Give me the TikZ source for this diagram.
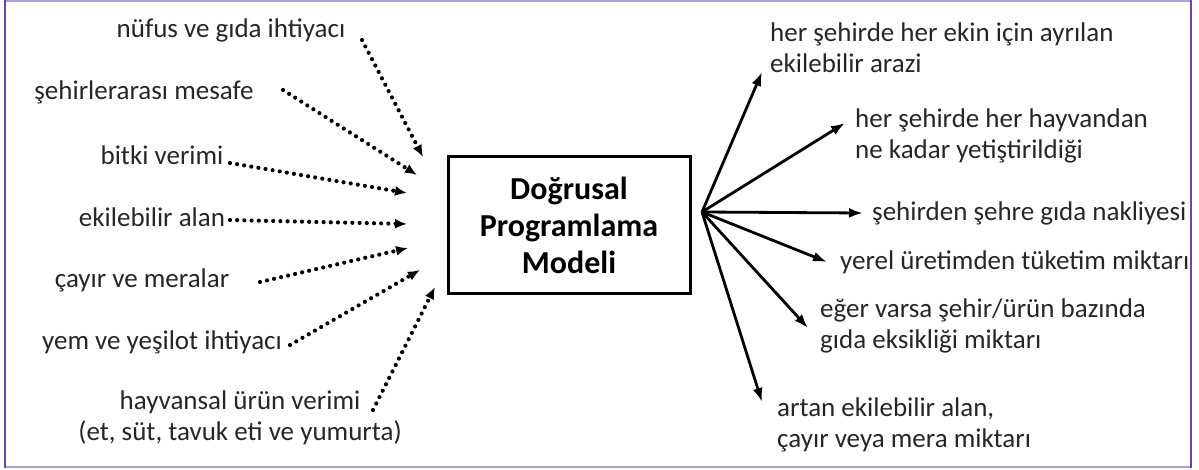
\documentclass[tikz,border=0pt]{standalone}
\usepackage{fontspec}
\setmainfont{Carlito}
\usetikzlibrary{arrows.meta}
\definecolor{frameDark}{HTML}{6B46A8}
\definecolor{frameLight}{HTML}{B39DDB}
\tikzset{
  lbl/.style={inner sep=0pt, font=\fontsize{27}{31}\selectfont, text=black!85},
  lblL/.style={lbl, align=left},
  inarrow/.style={line width=4.2pt, line cap=round, dash pattern=on 0pt off 7.2pt, -{Latex[length=12pt,width=10pt]}},
  outarrow/.style={line width=2.8pt, -{Latex[length=14pt,width=10pt]}},
  modelbox/.style={draw, line width=3pt, minimum width=242pt, minimum height=137pt, align=center, font=\fontsize{32}{37}\selectfont\bfseries}
}
\begin{document}
\begin{tikzpicture}[x=1pt,y=-1pt]
\useasboundingbox (0,0) rectangle (1199,470);
% frame
\draw[frameLight, line width=2.5pt] (5,1) -- (1191,1);
\draw[frameLight, line width=2.5pt] (5,467) -- (1191,467);
\draw[frameDark, line width=1.6pt] (5,0) -- (5,468);
\draw[frameDark, line width=1.6pt] (1191,0) -- (1191,468);

% central box
\node[modelbox] (m) at (569,225.5) {Doğrusal\\Programlama\\Modeli};

% left labels
\node[lbl] (l1) at (231,30) {nüfus ve gıda ihtiyacı};
\node[lbl] (l2) at (144,92) {şehirlerarası mesafe};
\node[lbl] (l3) at (162,155) {bitki verimi};
\node[lbl] (l4) at (152,217) {ekilebilir alan};
\node[lbl] (l5) at (142,280) {çayır ve meralar};
\node[lbl] (l6) at (162,342) {yem ve yeşilot ihtiyacı};
\node[lbl, align=center] (l7) at (240,418) {hayvansal ürün verimi\\(et, süt, tavuk eti ve yumurta)};

% left arrow endpoints
\coordinate (s1) at (362,40);  \coordinate (e1) at (423,157);
\coordinate (s2) at (283,90);  \coordinate (e2) at (417,175);
\coordinate (s3) at (230,163); \coordinate (e3) at (407,193);
\coordinate (s4) at (230,220); \coordinate (e4) at (407,224);
\coordinate (s5) at (260,282); \coordinate (e5) at (408,248);
\coordinate (s6) at (290,345); \coordinate (e6) at (420,270);
\coordinate (s7) at (373,410); \coordinate (e7) at (435,287);
\foreach \i in {1,...,7} { \draw[inarrow] (s\i) -- (e\i); }

% right side
\coordinate (o) at (702,212);
\node[lblL, anchor=west] (r1) at (770,47.5) {her şehirde her ekin için ayrılan\\ekilebilir arazi};
\node[lblL, anchor=west] (r2) at (855,136) {her şehirde her hayvandan\\ne kadar yetiştirildiği};
\node[lblL, anchor=west] (r3) at (872,213) {şehirden şehre gıda nakliyesi};
\node[lblL, anchor=west] (r4) at (840,262) {yerel üretimden tüketim miktarı};
\node[lblL, anchor=west] (r5) at (820,326) {eğer varsa şehir/ürün bazında\\gıda eksikliği miktarı};
\node[lblL, anchor=west] (r6) at (777,425) {artan ekilebilir alan,\\çayır veya mera miktarı};

\coordinate (t1) at (762,72);
\coordinate (t2) at (845,123);
\coordinate (t3) at (863,213);
\coordinate (t4) at (827,262);
\coordinate (t5) at (808,328);
\coordinate (t6) at (762,402);
\foreach \i in {1,...,6} { \draw[outarrow] (o) -- (t\i); }
\end{tikzpicture}
\end{document}
